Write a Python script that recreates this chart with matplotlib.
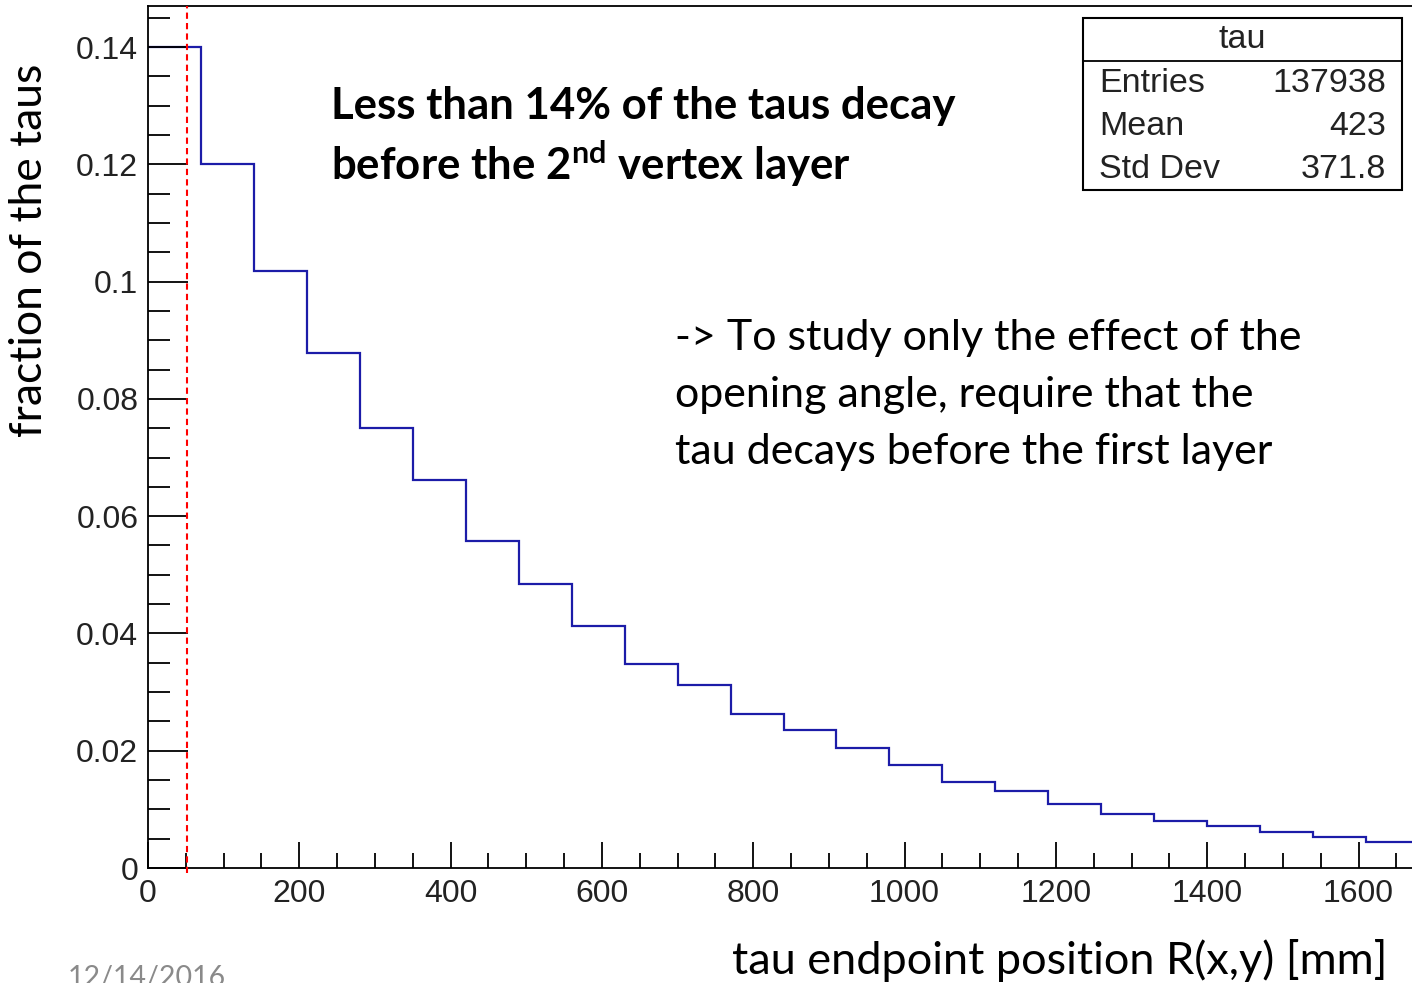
import numpy as np
import matplotlib
matplotlib.use("Agg")
import matplotlib.pyplot as plt
from matplotlib.patches import Rectangle
from matplotlib.lines import Line2D
from matplotlib.ticker import MultipleLocator, FuncFormatter

# tau endpoint R(x,y) histogram, 70 mm bins, normalised to unit area
bin_width = 70
frac = [0.1400, 0.1200, 0.1018, 0.0878, 0.0750, 0.0662, 0.0558, 0.0484,
        0.0413, 0.0348, 0.0312, 0.0263, 0.0235, 0.0205, 0.0176, 0.0147,
        0.0131, 0.0109, 0.0092, 0.0080, 0.0072, 0.0061, 0.0053, 0.0044]
edges = np.arange(len(frac) + 1) * bin_width

layer2_r = 52  # radius of the 2nd vertex layer [mm]

stats_title = "tau"
stats_names = ["Entries", "Mean", "Std Dev"]
stats_values = ["137938", "423", "371.8"]

W, H = 1412, 983
plt.rcParams['mathtext.fontset'] = 'custom'
plt.rcParams['mathtext.rm'] = 'Lato'
plt.rcParams['mathtext.bf'] = 'Lato:bold'

fig = plt.figure(figsize=(W / 100, H / 100), dpi=100)


def px(x, y):
    return x / W, 1 - y / H


ax = fig.add_axes([148 / W, (H - 868) / H, 1324 / W, 862 / H])
ax.stairs(frac, edges, baseline=None, color='#1c1ca8', lw=1.6)
ax.plot([layer2_r, layer2_r], [-0.0008, 0.147], color='#ff0000', lw=1.5,
        ls=(0, (3, 2)), clip_on=False, zorder=5)

ax.set_xlim(0, 1750)
ax.set_ylim(0, 0.147)
for s in ax.spines.values():
    s.set_linewidth(1.3)

ax.xaxis.set_major_locator(MultipleLocator(200))
ax.xaxis.set_minor_locator(MultipleLocator(50))
ax.yaxis.set_major_locator(MultipleLocator(0.02))
ax.yaxis.set_minor_locator(MultipleLocator(0.005))
ax.yaxis.set_major_formatter(FuncFormatter(lambda v, p: f"{v:g}"))
ax.xaxis.set_major_formatter(FuncFormatter(lambda v, p: f"{v:g}"))
ax.tick_params(axis='x', which='major', direction='in', length=19, width=1.3,
               pad=8, labelsize=23)
ax.tick_params(axis='x', which='minor', direction='in', length=11, width=1.3)
ax.tick_params(axis='y', which='major', direction='in', length=29, width=1.3,
               pad=7, labelsize=23)
ax.tick_params(axis='y', which='minor', direction='in', length=16, width=1.3)
for lab in ax.get_xticklabels() + ax.get_yticklabels():
    lab.set_family('Liberation Sans')
    lab.set_color('#222222')

# axis titles
fig.text(*px(30, 250), "fraction of the taus", rotation=90, ha='center',
         va='center', fontsize=32, family='Lato')
fig.text(*px(1388, 960), "tau endpoint position R(x,y) [mm]", ha='right',
         va='center', fontsize=32.5, family='Lato')

# annotations
fig.text(*px(331, 106), "Less than 14% of the taus decay", ha='left',
         va='center', fontsize=31.5, family='Lato', fontweight='bold')
fig.text(*px(331, 164), r"before the 2$^{\mathbf{nd}}$ vertex layer", ha='left',
         va='center', fontsize=31.5, family='Lato', fontweight='bold')
note = ["-> To study only the effect of the",
        "opening angle, require that the",
        "tau decays before the first layer"]
for i, line in enumerate(note):
    fig.text(*px(675, 338 + 57 * i), line, ha='left', va='center',
             fontsize=31, family='Lato')

fig.text(*px(68, 978), "12/14/2016", ha='left', va='center', fontsize=20.5,
         family='Lato', color='#8a8a8a')

# stats box
x0, y0, x1, y1 = 1083, 18, 1402, 190
fig.add_artist(Rectangle(px(x0, y1), (x1 - x0) / W, (y1 - y0) / H,
                         transform=fig.transFigure, fill=True, fc='white',
                         ec='black', lw=1.5))
fig.add_artist(Line2D([x0 / W, x1 / W], [1 - 61 / H, 1 - 61 / H],
                      transform=fig.transFigure, color='black', lw=1.3))
fig.text(*px((x0 + x1) / 2, 40), stats_title, ha='center', va='center',
         fontsize=24.5, family='Liberation Sans', color='#222222')
for i, (n, v) in enumerate(zip(stats_names, stats_values)):
    fig.text(*px(1099, 83 + 43.5 * i), n, ha='left', va='center',
             fontsize=24.5, family='Liberation Sans', color='#222222')
    fig.text(*px(1386, 83 + 43.5 * i), v, ha='right', va='center',
             fontsize=24.5, family='Liberation Sans', color='#222222')

fig.savefig("out.png", dpi=100)
